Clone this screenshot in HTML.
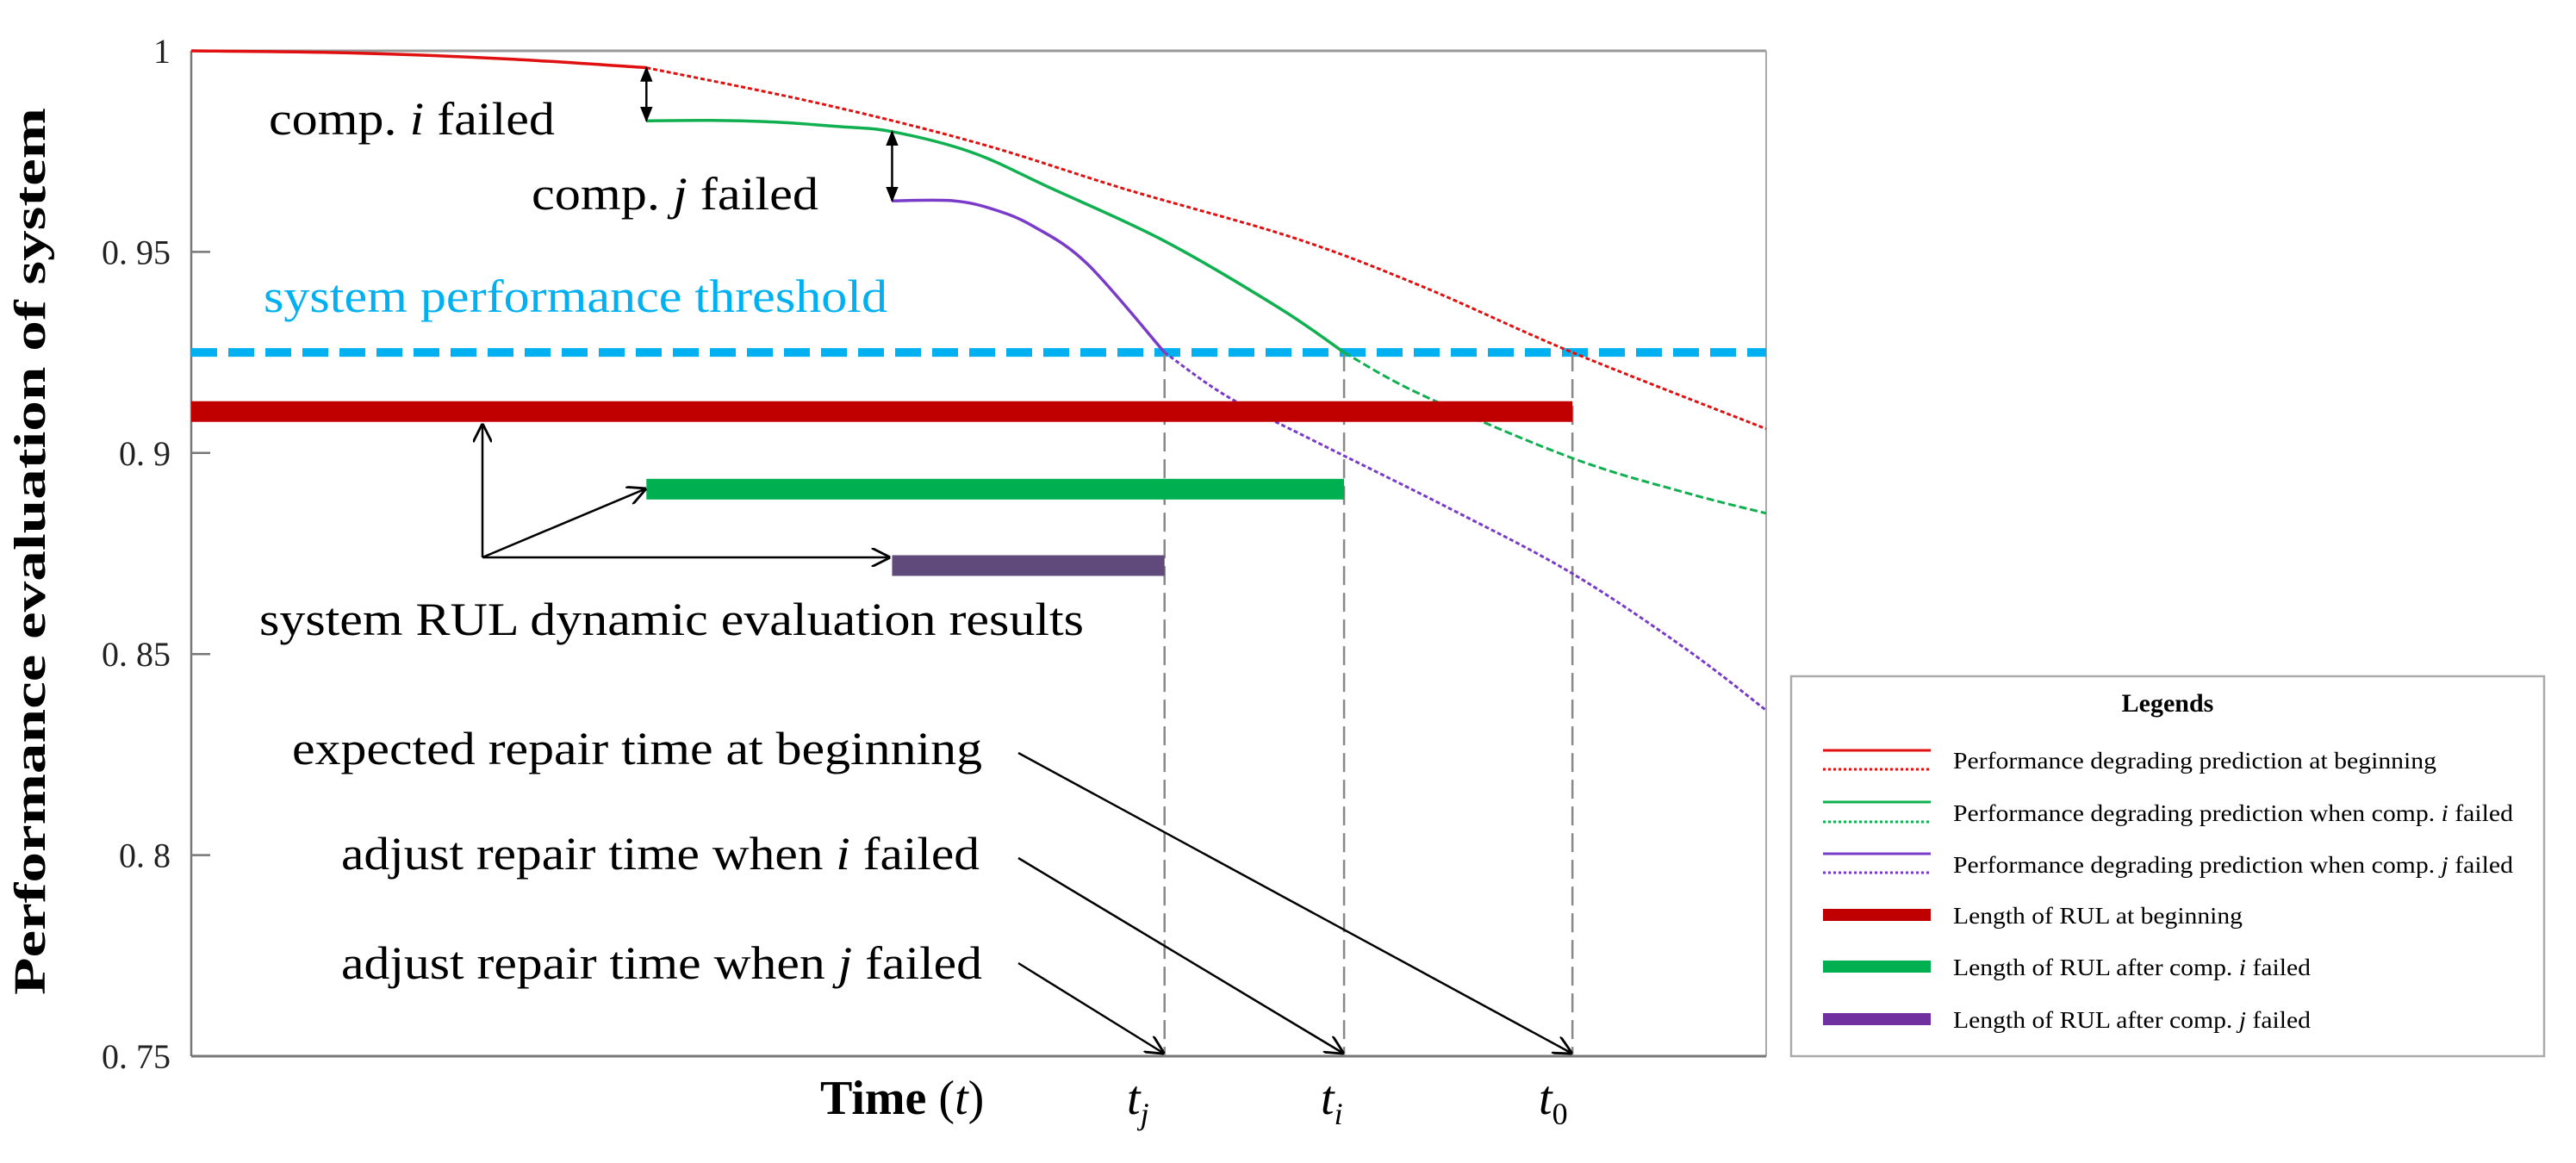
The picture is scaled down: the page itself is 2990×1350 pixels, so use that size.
<!DOCTYPE html>
<html><head><meta charset="utf-8">
<style>
html,body{margin:0;padding:0;background:#fff;}
svg{display:block;font-family:"Liberation Serif",serif;}
</style></head>
<body>
<svg id="chart" width="2990" height="1350" viewBox="0 0 2990 1350" xmlns="http://www.w3.org/2000/svg">
<defs>
<marker id="ah" viewBox="0 0 10 10" refX="9" refY="5" markerWidth="22" markerHeight="22" markerUnits="userSpaceOnUse" orient="auto-start-reverse">
<path d="M0,0 L10,5 L0,10" fill="none" stroke="#000" stroke-width="1.3"/></marker>
<marker id="ahf" viewBox="0 0 10 10" refX="9" refY="5" markerWidth="18" markerHeight="18" markerUnits="userSpaceOnUse" orient="auto-start-reverse">
<path d="M0,1 L10,5 L0,9 Z" fill="#000"/></marker>
</defs>
<g id="plot"></g>
</svg>
<script>
// ---- data ----
const yTicks = [1, 0.95, 0.9, 0.85, 0.8, 0.75];
const yTickLabels = ["1", "0. 95", "0. 9", "0. 85", "0. 8", "0. 75"];
const redT = [0, 10, 20, 28.9, 39.8, 50, 59.4, 70, 78.1, 87.7, 100];
const redV = [1, 0.9995, 0.998, 0.9958, 0.987, 0.977, 0.9655, 0.9535, 0.9415, 0.925, 0.906];
const greenT = [28.9, 33, 37, 41, 44.5, 49.6, 54.5, 61.8, 69.1, 73.2, 78.1, 87.7, 95, 100];
const greenV = [0.9826, 0.9827, 0.9823, 0.9812, 0.9799, 0.9747, 0.966, 0.9527, 0.936, 0.925, 0.9145, 0.8987, 0.890, 0.885];
const purpleT = [44.5, 48.4, 51, 53.5, 56.9, 61.8, 65.8, 71.3, 80, 87.7, 95, 100];
const purpleV = [0.9627, 0.9627, 0.9605, 0.9563, 0.947, 0.925, 0.914, 0.903, 0.886, 0.870, 0.851, 0.836];
const splitT = [28.9, 73.2, 61.8];   // solid -> predicted boundary
const threshold = 0.925;
const barStart = [0, 28.9, 44.5];
const barEnd = [87.7, 73.2, 61.8];
const barLevel = [0.9103, 0.891, 0.872];
const timeMarks = [61.8, 73.2, 87.7];

// ---- scales ----
const X0 = 222, X1 = 2050, Y0 = 59, Y1 = 1226;
const x = t => X0 + t / 100 * (X1 - X0);
const y = v => Y0 + (1 - v) / 0.25 * (Y1 - Y0);
const NS = "http://www.w3.org/2000/svg";
const g = document.getElementById('plot');
function mk(tag, attrs, parent) {
  const e = document.createElementNS(NS, tag);
  for (const k in attrs) e.setAttribute(k, attrs[k]);
  (parent || g).appendChild(e);
  return e;
}
function smooth(pts) {
  let d = `M${pts[0][0]},${pts[0][1]}`;
  for (let i = 0; i < pts.length - 1; i++) {
    const p0 = pts[Math.max(0, i - 1)], p1 = pts[i], p2 = pts[i + 1], p3 = pts[Math.min(pts.length - 1, i + 2)];
    const c1x = p1[0] + (p2[0] - p0[0]) / 6, c1y = p1[1] + (p2[1] - p0[1]) / 6;
    const c2x = p2[0] - (p3[0] - p1[0]) / 6, c2y = p2[1] - (p3[1] - p1[1]) / 6;
    d += ` C${c1x},${c1y} ${c2x},${c2y} ${p2[0]},${p2[1]}`;
  }
  return d;
}

let e = mk('line', {x1: X0, y1: Y0, x2: X1, y2: Y0, stroke: '#999', 'stroke-width': 3});
 
e = mk('line', {x1: X1, y1: Y0, x2: X1, y2: Y1, stroke: '#aaa', 'stroke-width': 2});
 
e = mk('line', {x1: X0, y1: Y0, x2: X0, y2: Y1, stroke: '#777', 'stroke-width': 2.5});
 
e = mk('line', {x1: X0, y1: Y1, x2: X1, y2: Y1, stroke: '#777', 'stroke-width': 3});
 

yTicks.forEach((v, i) => {
  const t = mk('line', {x1: X0, y1: y(v), x2: X0 + 22, y2: y(v), stroke: '#777', 'stroke-width': 2.5});
  
  
  const l = mk('text', {x: 198, y: y(v) + 14, 'text-anchor': 'end', 'font-size': 40, fill: '#222'});
  l.textContent = yTickLabels[i];
  
  
});

e = mk('line', {x1: X0, y1: y(threshold), x2: X1, y2: y(threshold), stroke: '#00b0f0', 'stroke-width': 10, 'stroke-dasharray': '30 13'});
 

timeMarks.forEach(t => {
  const l = mk('line', {x1: x(t), y1: y(threshold), x2: x(t), y2: Y1, stroke: '#888', 'stroke-width': 2.5, 'stroke-dasharray': '22 9'});
  
  
});

function drawCurve(T, V, split, color, name, dash) {
  const solid = [], pred = [];
  T.forEach((t, i) => {
    if (t <= split) solid.push([x(t), y(V[i])]);
    if (t >= split) pred.push([x(t), y(V[i])]);
  });
  const a = mk('path', {d: smooth(solid), fill: 'none', stroke: color, 'stroke-width': 3.5});
  
  
  const b = mk('path', {d: smooth(pred), fill: 'none', stroke: color, 'stroke-width': 3, 'stroke-dasharray': dash});
  
  
}
drawCurve(redT, redV, splitT[0], '#e01010', 'red-curve', '5 3');
drawCurve(greenT, greenV, splitT[1], '#10b050', 'green-curve', '9 4');
drawCurve(purpleT, purpleV, splitT[2], '#7a3cc8', 'purple-curve', '5 3');

const barColors = ['#c00000', '#00b050', '#604a7b'];
const barNames = ['rul-bar-beginning', 'rul-bar-comp-i', 'rul-bar-comp-j'];
barLevel.forEach((v, i) => {
  const r = mk('rect', {x: x(barStart[i]), y: y(v) - 12, width: x(barEnd[i]) - x(barStart[i]), height: 24, fill: barColors[i]});
  
  
});

e = mk('line', {x1: x(28.9), y1: y(redV[3]), x2: x(28.9), y2: y(greenV[0]), stroke: '#000', 'stroke-width': 2.5, 'marker-start': 'url(#ahf)', 'marker-end': 'url(#ahf)'});
 
e = mk('line', {x1: x(44.5), y1: y(greenV[4]), x2: x(44.5), y2: y(purpleV[0]), stroke: '#000', 'stroke-width': 2.5, 'marker-start': 'url(#ahf)', 'marker-end': 'url(#ahf)'});
 

e = mk('line', {x1: 560, y1: 647, x2: 560, y2: y(barLevel[0]) + 16, stroke: '#000', 'stroke-width': 2.5, 'marker-end': 'url(#ah)'});
 
e = mk('line', {x1: 560, y1: 647, x2: x(barStart[1]) - 2, y2: y(barLevel[1]), stroke: '#000', 'stroke-width': 2.5, 'marker-end': 'url(#ah)'});
 
e = mk('line', {x1: 560, y1: 647, x2: x(barStart[2]) - 4, y2: 647, stroke: '#000', 'stroke-width': 2.5, 'marker-end': 'url(#ah)'});
 

[[874, 87.7], [996, 73.2], [1118, 61.8]].forEach(p => {
  const l = mk('line', {x1: 1182, y1: p[0], x2: x(p[1]) - 2, y2: Y1 - 4, stroke: '#000', 'stroke-width': 2.5, 'marker-end': 'url(#ah)'});
  
  
});
</script>

<svg style="position:absolute;left:0;top:0" width="2990" height="1350" viewBox="0 0 2990 1350" xmlns="http://www.w3.org/2000/svg" font-family="Liberation Serif, serif">
<text x="52" y="640" transform="rotate(-90 52 640)" text-anchor="middle" font-size="52" font-weight="bold" textLength="1030" lengthAdjust="spacingAndGlyphs">Performance evaluation of system</text>
<text x="312" y="156" font-size="54" textLength="332" lengthAdjust="spacingAndGlyphs">comp. <tspan font-style="italic">i</tspan> failed</text>
<text x="617" y="243" font-size="54" textLength="333" lengthAdjust="spacingAndGlyphs">comp. <tspan font-style="italic">j</tspan> failed</text>
<text x="306" y="362" font-size="54" fill="#00b0f0" textLength="724" lengthAdjust="spacingAndGlyphs">system performance threshold</text>
<text x="301" y="737" font-size="54" textLength="957" lengthAdjust="spacingAndGlyphs">system RUL dynamic evaluation results</text>
<text x="339" y="887" font-size="54" textLength="801" lengthAdjust="spacingAndGlyphs">expected repair time at beginning</text>
<text x="396" y="1009" font-size="54" textLength="741" lengthAdjust="spacingAndGlyphs">adjust repair time when <tspan font-style="italic">i</tspan> failed</text>
<text x="396" y="1136" font-size="54" textLength="744" lengthAdjust="spacingAndGlyphs">adjust repair time when <tspan font-style="italic">j</tspan> failed</text>
<text x="952" y="1293" font-size="56"><tspan font-weight="bold">Time</tspan> (<tspan font-style="italic">t</tspan>)</text>
<text x="1308" y="1293" font-size="56" font-style="italic">t<tspan font-size="36" dy="12">j</tspan></text>
<text x="1533" y="1293" font-size="56" font-style="italic">t<tspan font-size="36" dy="12">i</tspan></text>
<text x="1786" y="1293" font-size="56" font-style="italic">t<tspan font-size="36" dy="12" font-style="normal">0</tspan></text>

<g>
<rect x="2079" y="785" width="874" height="441" fill="#fff" stroke="#aaa" stroke-width="2.5"/>
<text x="2516" y="826" text-anchor="middle" font-size="30" font-weight="bold">Legends</text>
<g>
<line x1="2116" y1="871" x2="2241" y2="871" stroke="#e01010" stroke-width="3"/>
<line x1="2116" y1="893" x2="2241" y2="893" stroke="#e01010" stroke-width="3" stroke-dasharray="3 3"/>
<text x="2267" y="892" font-size="27" textLength="561" lengthAdjust="spacingAndGlyphs">Performance degrading prediction at beginning</text></g>
<g>
<line x1="2116" y1="931" x2="2241" y2="931" stroke="#10b050" stroke-width="3"/>
<line x1="2116" y1="954" x2="2241" y2="954" stroke="#10b050" stroke-width="3" stroke-dasharray="3 3"/>
<text x="2267" y="953" font-size="27" textLength="650" lengthAdjust="spacingAndGlyphs">Performance degrading prediction when comp. <tspan font-style="italic">i</tspan> failed</text></g>
<g>
<line x1="2116" y1="991" x2="2241" y2="991" stroke="#7a3cc8" stroke-width="3"/>
<line x1="2116" y1="1013" x2="2241" y2="1013" stroke="#7a3cc8" stroke-width="3" stroke-dasharray="3 3"/>
<text x="2267" y="1013" font-size="27" textLength="650" lengthAdjust="spacingAndGlyphs">Performance degrading prediction when comp. <tspan font-style="italic">j</tspan> failed</text></g>
<g>
<rect x="2116" y="1055" width="125" height="14" fill="#c00000"/>
<text x="2267" y="1072" font-size="27" textLength="336" lengthAdjust="spacingAndGlyphs">Length of RUL at beginning</text></g>
<g>
<rect x="2116" y="1115" width="125" height="14" fill="#00b050"/>
<text x="2267" y="1132" font-size="27" textLength="415" lengthAdjust="spacingAndGlyphs">Length of RUL after comp. <tspan font-style="italic">i</tspan> failed</text></g>
<g>
<rect x="2116" y="1176" width="125" height="14" fill="#7030a0"/>
<text x="2267" y="1193" font-size="27" textLength="415" lengthAdjust="spacingAndGlyphs">Length of RUL after comp. <tspan font-style="italic">j</tspan> failed</text></g>
</g>
</svg>
</body></html>
